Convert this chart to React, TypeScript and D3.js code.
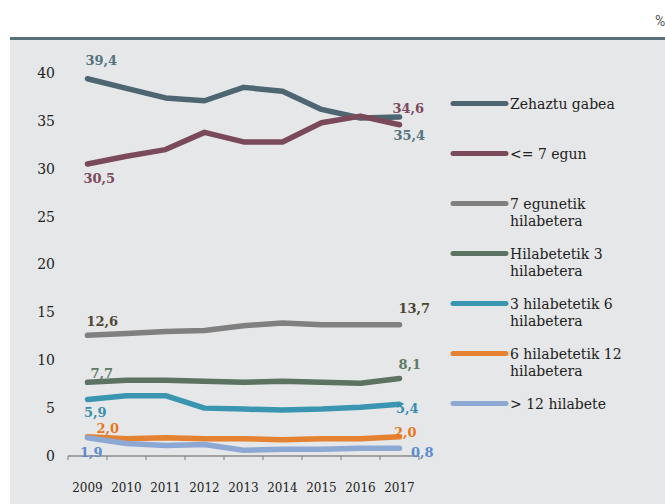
import React from "react";
import * as d3 from "d3";

const years = ["2009", "2010", "2011", "2012", "2013", "2014", "2015", "2016", "2017"];
const seriesNames = [
  ["Zehaztu gabea"],
  ["<= 7 egun"],
  ["7 egunetik", "hilabetera"],
  ["Hilabetetik 3", "hilabetera"],
  ["3 hilabetetik 6", "hilabetera"],
  ["6 hilabetetik 12", "hilabetera"],
  ["> 12 hilabete"],
];
const zehaztuGabea = [39.4, 38.4, 37.4, 37.1, 38.5, 38.1, 36.2, 35.3, 35.4];
const zazpiEgun = [30.5, 31.3, 32.0, 33.8, 32.8, 32.8, 34.8, 35.5, 34.6];
const egunetikHilabetera = [12.6, 12.8, 13.0, 13.1, 13.6, 13.9, 13.7, 13.7, 13.7];
const hilabetetik3 = [7.7, 7.9, 7.9, 7.8, 7.7, 7.8, 7.7, 7.6, 8.1];
const hilabetetik3to6 = [5.9, 6.3, 6.3, 5.0, 4.9, 4.8, 4.9, 5.1, 5.4];
const hilabetetik6to12 = [2.0, 1.8, 1.9, 1.8, 1.8, 1.7, 1.8, 1.8, 2.0];
const hilabete12 = [1.9, 1.3, 1.1, 1.2, 0.6, 0.7, 0.7, 0.8, 0.8];
const yTicks = [0, 5, 10, 15, 20, 25, 30, 35, 40];

const seriesValues = [
  zehaztuGabea,
  zazpiEgun,
  egunetikHilabetera,
  hilabetetik3,
  hilabetetik3to6,
  hilabetetik6to12,
  hilabete12,
];
const lineColors = ["#4d6672", "#7b4a5a", "#808080", "#5b7360", "#3a96b0", "#e48232", "#8ea8d4"];
const labelColors = ["#557380", "#7d4a5e", "#4e4632", "#5f7a65", "#3a8fae", "#e87722", "#5b8bd0"];
// [startDx, startDy, endDx, endDy] relative to first/last point
const labelOffsets = [
  [-2, -14, -6, 23],
  [-4, 19, -7, -12],
  [-1, -9.5, -1, -12],
  [3, -4, -1, -9],
  [-3.5, 17.5, -3.5, 9],
  [9, -4, -5.5, 0],
  [-7.5, 19, 11.5, 9],
];

const fmt = (v: number) => v.toFixed(1).replace(".", ",");

export default function App() {
  const W = 665;
  const H = 504;
  const x = d3.scaleBand<string>().domain(years).range([68, 419]);
  const y = d3.scaleLinear().domain([0, 40]).range([456, 73]);
  const cx = (yr: string) => (x(yr) as number) + x.bandwidth() / 2;
  const line = d3
    .line<number>()
    .x((_, i) => cx(years[i]))
    .y((v) => y(v));
  const font = "'DejaVu Serif', serif";

  return (
    <svg width={W} height={H} style={{ position: "absolute", left: 0, top: 0 }}>
      <rect x={10} y={40} width={W - 10} height={H - 40} fill="#e6e7e8" />
      <rect x={10} y={37} width={W - 10} height={3} fill="#587079" />
      <text x={655} y={26} fontFamily="Roboto, sans-serif" fontSize={14} fill="#555">%</text>

      {yTicks.map((t) => (
        <text key={t} x={55} y={y(t)} dy="0.35em" textAnchor="end" fontFamily={font} fontSize={14} fill="#222">
          {t}
        </text>
      ))}

      <line x1={68} x2={419} y1={y(0)} y2={y(0)} stroke="#8a8a8a" strokeWidth={1.5} />
      {years.map((yr) => (
        <line key={"t" + yr} x1={x(yr) as number} x2={x(yr) as number} y1={y(0)} y2={y(0) + 4} stroke="#8a8a8a" strokeWidth={1.2} />
      ))}
      <line x1={419} x2={419} y1={y(0)} y2={y(0) + 4} stroke="#8a8a8a" strokeWidth={1.2} />
      {years.map((yr) => (
        <text key={"l" + yr} x={cx(yr)} y={492} textAnchor="middle" fontFamily={font} fontSize={12} fill="#222">
          {yr}
        </text>
      ))}

      {seriesValues.map((vals, i) => (
        <path key={"p" + i} d={line(vals) as string} fill="none" stroke={lineColors[i]} strokeWidth={5.5} strokeLinecap="round" strokeLinejoin="round" />
      ))}

      {seriesValues.map((vals, i) => {
        const o = labelOffsets[i];
        const last = vals.length - 1;
        return (
          <g key={"v" + i} fontFamily={font} fontSize={13} fontWeight="bold" fill={labelColors[i]}>
            <text x={cx(years[0]) + o[0]} y={y(vals[0]) + o[1]}>{fmt(vals[0])}</text>
            <text x={cx(years[last]) + o[2]} y={y(vals[last]) + o[3]}>{fmt(vals[last])}</text>
          </g>
        );
      })}

      {seriesNames.map((lines, i) => {
        const ly = 103.5 + i * 50;
        return (
          <g key={"lg" + i}>
            <line x1={453} x2={506} y1={ly} y2={ly} stroke={lineColors[i]} strokeWidth={5} strokeLinecap="round" />
            {lines.map((s, j) => (
              <text key={j} x={510} y={ly + 5 + j * 17.5} fontFamily={font} fontSize={14} fill="#222">
                {s}
              </text>
            ))}
          </g>
        );
      })}
    </svg>
  );
}
